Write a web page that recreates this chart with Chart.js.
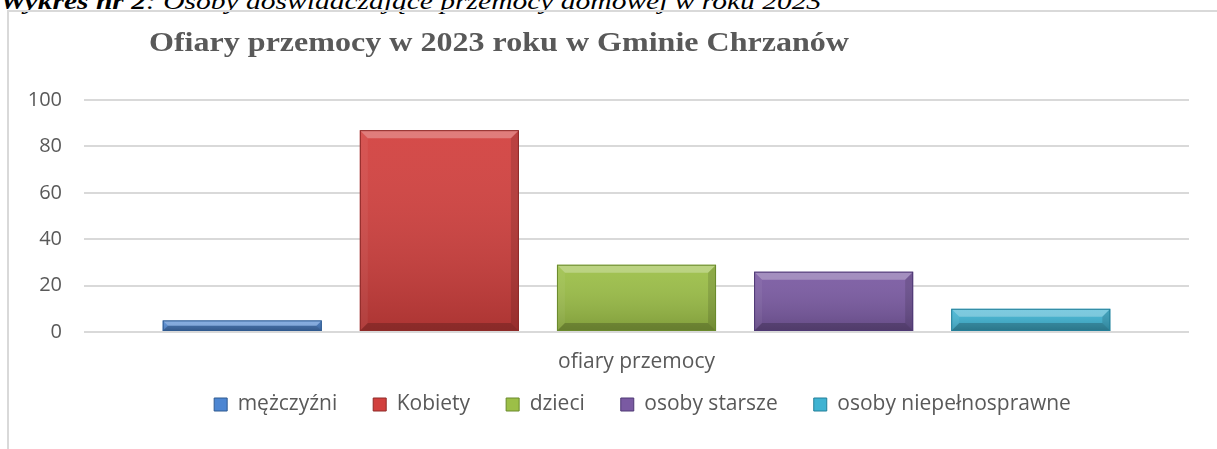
<!DOCTYPE html>
<html>
<head>
<meta charset="utf-8">
<script src="https://cdn.jsdelivr.net/npm/chart.js@4"></script>
<style>
  html, body { margin: 0; padding: 0; background: #fff; overflow: hidden; }
  #caption {
    position: absolute; left: 0; top: -12px; white-space: nowrap;
    font-family: 'Liberation Serif', 'Times New Roman', serif; font-style: italic;
    font-size: 24px; color: #000;
    transform: scaleX(1.23); transform-origin: 0 0;
  }
  #frame {
    position: absolute; left: 7px; top: 10px; width: 1240px; height: 470px;
    border: 2px solid #d9d9d9;
  }
  #chart { position: absolute; left: 0; top: 0; }
</style>
</head>
<body>
<div id="caption"><b>Wykres nr 2</b>: Osoby doświadczające przemocy domowej w roku 2023</div>
<div id="frame"></div>
<canvas id="chart" width="1217" height="449"></canvas>
<script>
const TITLE = 'Ofiary przemocy w 2023 roku w Gminie Chrzanów';
const CATEGORIES = ['ofiary przemocy'];
const SERIES = ['mężczyźni', 'Kobiety', 'dzieci', 'osoby starsze', 'osoby niepełnosprawne'];
const VALUES = [5, 87, 29, 26, 10];
const Y_TICKS = [0, 20, 40, 60, 80, 100];

const FILLS   = ['#4d86d2', '#d2403e', '#9cbf47', '#7a5aa2', '#3fb3d2'];
const BORDERS = ['#2f5a90', '#8e2a28', '#6a8a2c', '#4e3874', '#237f99'];
const FONT = '"Open Sans", "Noto Sans", sans-serif';

// title drawn off-centre (and a bit wide) like the Excel original
const titlePlugin = {
  id: 'offTitle',
  afterDraw(chart) {
    const ctx = chart.ctx;
    ctx.save();
    ctx.font = 'bold 27px "Liberation Serif", "Times New Roman", serif';
    ctx.fillStyle = '#595959';
    ctx.textAlign = 'center';
    ctx.textBaseline = 'alphabetic';
    ctx.translate(499, 51);
    ctx.scale(1.187, 1);
    ctx.fillText(TITLE, 0, 0);
    ctx.restore();
  }
};

// move the legend up toward the axis label and centre it under the bars
const legendShift = {
  id: 'legendShift',
  afterLayout(chart) {
    const L = chart.legend;
    if (!L) return;
    L.top -= 24; L.bottom -= 24;
    L.left += 48; L.right += 48;
  }
};

// bevel / shading on each bar, using the bar geometry computed by Chart.js
const bevelPlugin = {
  id: 'bevel',
  afterDatasetsDraw(chart) {
    const ctx = chart.ctx;
    chart.data.datasets.forEach((ds, i) => {
      chart.getDatasetMeta(i).data.forEach(bar => {
        const { x, y, width, base } = bar.getProps(['x', 'y', 'width', 'base'], true);
        const l = x - width / 2, r = x + width / 2, t = Math.min(y, base), btm = Math.max(y, base);
        const h = btm - t;
        if (h <= 0) return;
        const b = Math.min(8, h / 2);
        ctx.save();
        const g = ctx.createLinearGradient(0, t, 0, btm);
        g.addColorStop(0, 'rgba(255,255,255,0.06)');
        g.addColorStop(1, 'rgba(0,0,0,0.18)');
        ctx.fillStyle = g;
        ctx.fillRect(l, t, width, h);
        const poly = (pts, c) => {
          ctx.beginPath();
          ctx.moveTo(pts[0][0], pts[0][1]);
          pts.slice(1).forEach(p => ctx.lineTo(p[0], p[1]));
          ctx.closePath();
          ctx.fillStyle = c; ctx.fill();
        };
        poly([[l, t], [r, t], [r - b, t + b], [l + b, t + b]], 'rgba(255,255,255,0.28)');
        poly([[l, t], [l + b, t + b], [l + b, btm - b], [l, btm]], 'rgba(255,255,255,0.05)');
        poly([[r, t], [r - b, t + b], [r - b, btm - b], [r, btm]], 'rgba(0,0,0,0.12)');
        poly([[l, btm], [l + b, btm - b], [r - b, btm - b], [r, btm]], 'rgba(0,0,0,0.20)');
        ctx.strokeStyle = BORDERS[i];
        ctx.lineWidth = 1;
        ctx.strokeRect(l + 0.5, t + 0.5, width - 1, h - 1);
        ctx.restore();
      });
    });
  }
};

new Chart(document.getElementById('chart'), {
  type: 'bar',
  data: {
    labels: CATEGORIES,
    datasets: SERIES.map((name, i) => ({
      label: name,
      data: [VALUES[i]],
      backgroundColor: FILLS[i],
      borderColor: BORDERS[i],
      borderWidth: 0,
      categoryPercentage: 0.892,
      barPercentage: 0.807
    }))
  },
  options: {
    responsive: false,
    animation: false,
    layout: { padding: { top: 100, right: 28, bottom: 0, left: 0 } },
    plugins: {
      title: { display: false },
      tooltip: { enabled: false },
      legend: {
        position: 'bottom',
        labels: {
          boxWidth: 13, boxHeight: 13, padding: 36,
          color: '#595959',
          font: { family: FONT, size: 21 },
          generateLabels: chart => chart.data.datasets.map((ds, i) => ({
            text: ds.label, fillStyle: FILLS[i], strokeStyle: BORDERS[i],
            lineWidth: 1, datasetIndex: i, fontColor: '#595959'
          }))
        }
      }
    },
    scales: {
      x: {
        grid: { display: false, drawTicks: false },
        border: { display: false },
        ticks: {
          color: '#595959', padding: 17,
          font: { family: FONT, size: 21 }
        },
        afterFit: s => { s.height = 50; }
      },
      y: {
        min: 0, max: 100,
        afterBuildTicks: s => { s.ticks = Y_TICKS.map(v => ({ value: v })); },
        grid: { color: '#d9d9d9', lineWidth: 2, drawTicks: false },
        border: { display: false },
        ticks: {
          color: '#595959', padding: 22,
          font: { family: FONT, size: 20 }
        },
        afterFit: s => { s.width = 84; }
      }
    }
  },
  plugins: [bevelPlugin, titlePlugin, legendShift]
});
</script>
</body>
</html>
